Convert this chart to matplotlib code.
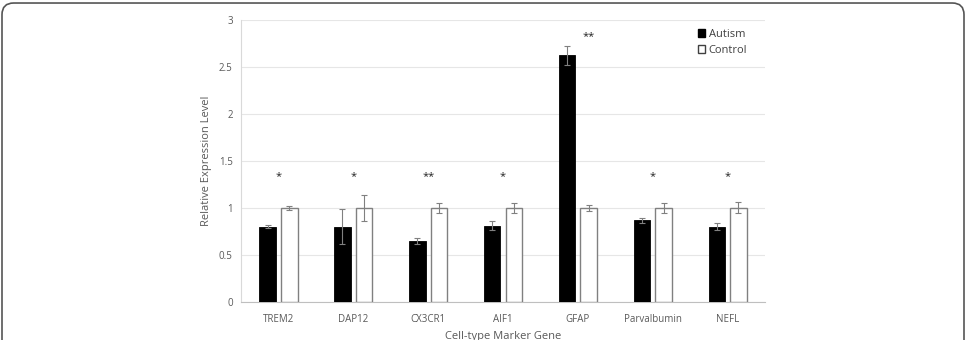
import matplotlib
matplotlib.use("Agg")
import matplotlib.pyplot as plt
from matplotlib.patches import FancyBboxPatch, Patch
import numpy as np

plt.rcParams['font.family'] = ['Open Sans', 'DejaVu Sans']

genes = ["TREM2", "DAP12", "CX3CR1", "AIF1", "GFAP", "Parvalbumin", "NEFL"]
autism = [0.80, 0.80, 0.65, 0.81, 2.625, 0.865, 0.80]
autism_err = [0.02, 0.19, 0.03, 0.05, 0.10, 0.03, 0.04]
control = [1.0, 1.0, 1.0, 1.0, 1.0, 1.0, 1.0]
control_err = [0.02, 0.14, 0.05, 0.05, 0.03, 0.05, 0.06]
stars = ["*", "*", "**", "*", "**", "*", "*"]
star_y = [1.33, 1.33, 1.33, 1.33, 2.82, 1.33, 1.33]
yticks = [0, 0.5, 1, 1.5, 2, 2.5, 3]
ytick_labels = ["0", "0.5", "1", "1.5", "2", "2.5", "3"]

fig = plt.figure(figsize=(9.69, 3.40), dpi=100)
ax = fig.add_axes([0.2487, 0.1126, 0.5408, 0.8285])

x = np.arange(len(genes))
w = 0.22
off = 0.145
grey = "#808080"
txt = "#595959"

ax.bar(x - off, autism, w, color="black", edgecolor="black", linewidth=0.6,
       yerr=autism_err, error_kw=dict(ecolor=grey, elinewidth=0.8, capsize=2.5, capthick=0.8),
       zorder=3)
ax.bar(x + off, control, w, color="white", edgecolor=grey, linewidth=1.0,
       yerr=control_err, error_kw=dict(ecolor=grey, elinewidth=0.8, capsize=2.5, capthick=0.8),
       zorder=3)

for i, (s, yy) in enumerate(zip(stars, star_y)):
    xs = x[i] + (off if i == 4 else 0)
    ax.text(xs, yy, s, ha="center", va="center", fontsize=8, color="#222222")

ax.set_xlim(-0.5, len(genes) - 0.5)
ax.set_ylim(0, 3)
ax.set_yticks(yticks)
ax.set_yticklabels(ytick_labels)
ax.set_xticks(x)
ax.set_xticklabels(genes)
ax.tick_params(axis="both", length=0, labelsize=7, colors=txt)
ax.tick_params(axis="x", pad=9)
ax.tick_params(axis="y", pad=6)
ax.grid(axis="y", color="#e6e6e6", linewidth=0.8, zorder=0)
ax.set_axisbelow(True)
for sp in ["top", "right"]:
    ax.spines[sp].set_visible(False)
ax.spines["left"].set_color("#d9d9d9")
ax.spines["bottom"].set_color("#bfbfbf")

ax.set_ylabel("Relative Expression Level", fontsize=8, color=txt, labelpad=5)
ax.set_xlabel("Cell-type Marker Gene", fontsize=8, color=txt, labelpad=4)

handles = [Patch(facecolor="black", edgecolor="black", label="Autism"),
           Patch(facecolor="white", edgecolor="#404040", label="Control")]
ax.legend(handles=handles, loc="upper right", bbox_to_anchor=(0.985, 1.005), frameon=False,
          fontsize=8, labelcolor="#404040", handlelength=0.7, handleheight=0.7,
          handletextpad=0.3, labelspacing=0.5)

frame = FancyBboxPatch((2 / 969, -0.05), 962 / 969, 1 - 2 / 340 + 0.05 - 0.003,
                       boxstyle="round,pad=0,rounding_size=0.012",
                       transform=fig.transFigure, fill=False,
                       edgecolor="#555555", linewidth=1.2, mutation_aspect=969 / 340)
fig.patches.append(frame)

fig.savefig("out.png", dpi=100)
